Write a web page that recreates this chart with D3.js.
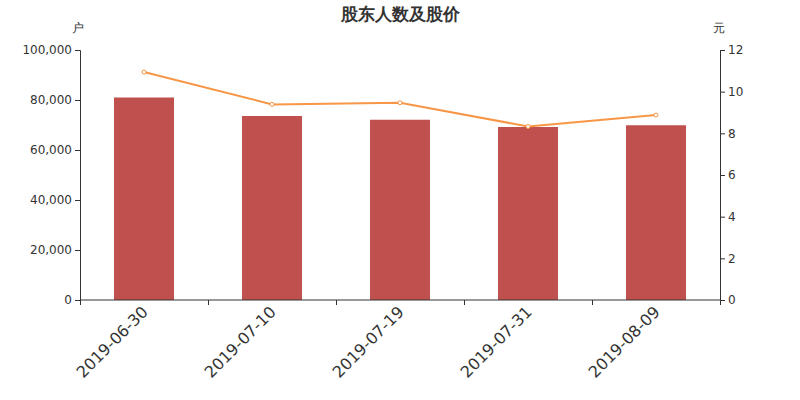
<!DOCTYPE html>
<html><head><meta charset="utf-8">
<script src="https://cdn.jsdelivr.net/npm/d3@7/dist/d3.min.js"></script>
<style>body{margin:0;background:#fff;}svg{display:block;font-family:"DejaVu Sans",sans-serif;}</style>
</head><body>
<svg id="c" width="800" height="400"></svg>
<script>
const categories = ["2019-06-30","2019-07-10","2019-07-19","2019-07-31","2019-08-09"];
const holders = [81000, 73600, 72100, 69200, 69900];
const prices = [10.94, 9.39, 9.47, 8.33, 8.88];
const leftTicks = [0,20000,40000,60000,80000,100000];
const rightTicks = [0,2,4,6,8,10,12];

const svg = d3.select("#c");
const L=80,R=720,T=50,B=300;
const x = d3.scaleBand().domain(categories).range([L,R]);
const yL = d3.scaleLinear().domain([0,100000]).range([B,T]);
const yR = d3.scaleLinear().domain([0,12]).range([B,T]);
const txt="#333";

svg.append("text").attr("x",400).attr("y",20).attr("text-anchor","middle")
  .attr("font-size",17).attr("font-weight","bold").attr("fill",txt).text("股东人数及股价");
svg.append("text").attr("x",78).attr("y",32).attr("text-anchor","middle").attr("font-size",12).attr("fill",txt).text("户");
svg.append("text").attr("x",719).attr("y",32).attr("text-anchor","middle").attr("font-size",12).attr("fill",txt).text("元");

// bars
svg.selectAll("rect.bar").data(holders).enter().append("rect")
  .attr("x",(d,i)=>x(categories[i])+x.bandwidth()/2-30).attr("width",60)
  .attr("y",d=>yL(d)).attr("height",d=>B-yL(d)).attr("fill","#c0504d");

// axes
const ga = svg.append("g").attr("transform",`translate(${L},0)`)
  .call(d3.axisLeft(yL).tickValues(leftTicks).tickFormat(d3.format(",")).tickSize(5).tickPadding(3));
const gb = svg.append("g").attr("transform",`translate(${R},0)`)
  .call(d3.axisRight(yR).tickValues(rightTicks).tickSize(5).tickPadding(3));
const xs = d3.scaleLinear().domain([0,5]).range([L,R]);
const gx = svg.append("g").attr("transform",`translate(0,${B})`)
  .call(d3.axisBottom(xs).tickValues([0,1,2,3,4,5]).tickFormat("").tickSize(5));
[ga,gb,gx].forEach(g=>{
  g.attr("font-family","DejaVu Sans").attr("font-size",12);
  g.select(".domain").attr("stroke",txt);
  g.selectAll(".tick line").attr("stroke",txt);
  g.selectAll(".tick text").attr("fill",txt).attr("font-size",12);
});
gx.select(".domain").attr("d",`M${L},0H${R}`);

// x labels
svg.selectAll("text.xl").data(categories).enter().append("text")
  .attr("class","xl").attr("font-size",16).attr("fill",txt).attr("text-anchor","end")
  .attr("transform",(d)=>`translate(${x(d)+x.bandwidth()/2+5},${B+13}) rotate(-45)`)
  .text(d=>d);

// line
const line = d3.line().x((d,i)=>x(categories[i])+x.bandwidth()/2).y(d=>yR(d));
svg.append("path").datum(prices).attr("d",line).attr("fill","none").attr("stroke","#f79646").attr("stroke-width",2);
svg.selectAll("circle.p").data(prices).enter().append("circle")
  .attr("cx",(d,i)=>x(categories[i])+x.bandwidth()/2).attr("cy",d=>yR(d)).attr("r",2)
  .attr("fill","#fff").attr("stroke","#f79646").attr("stroke-width",1);
</script>
</body></html>
